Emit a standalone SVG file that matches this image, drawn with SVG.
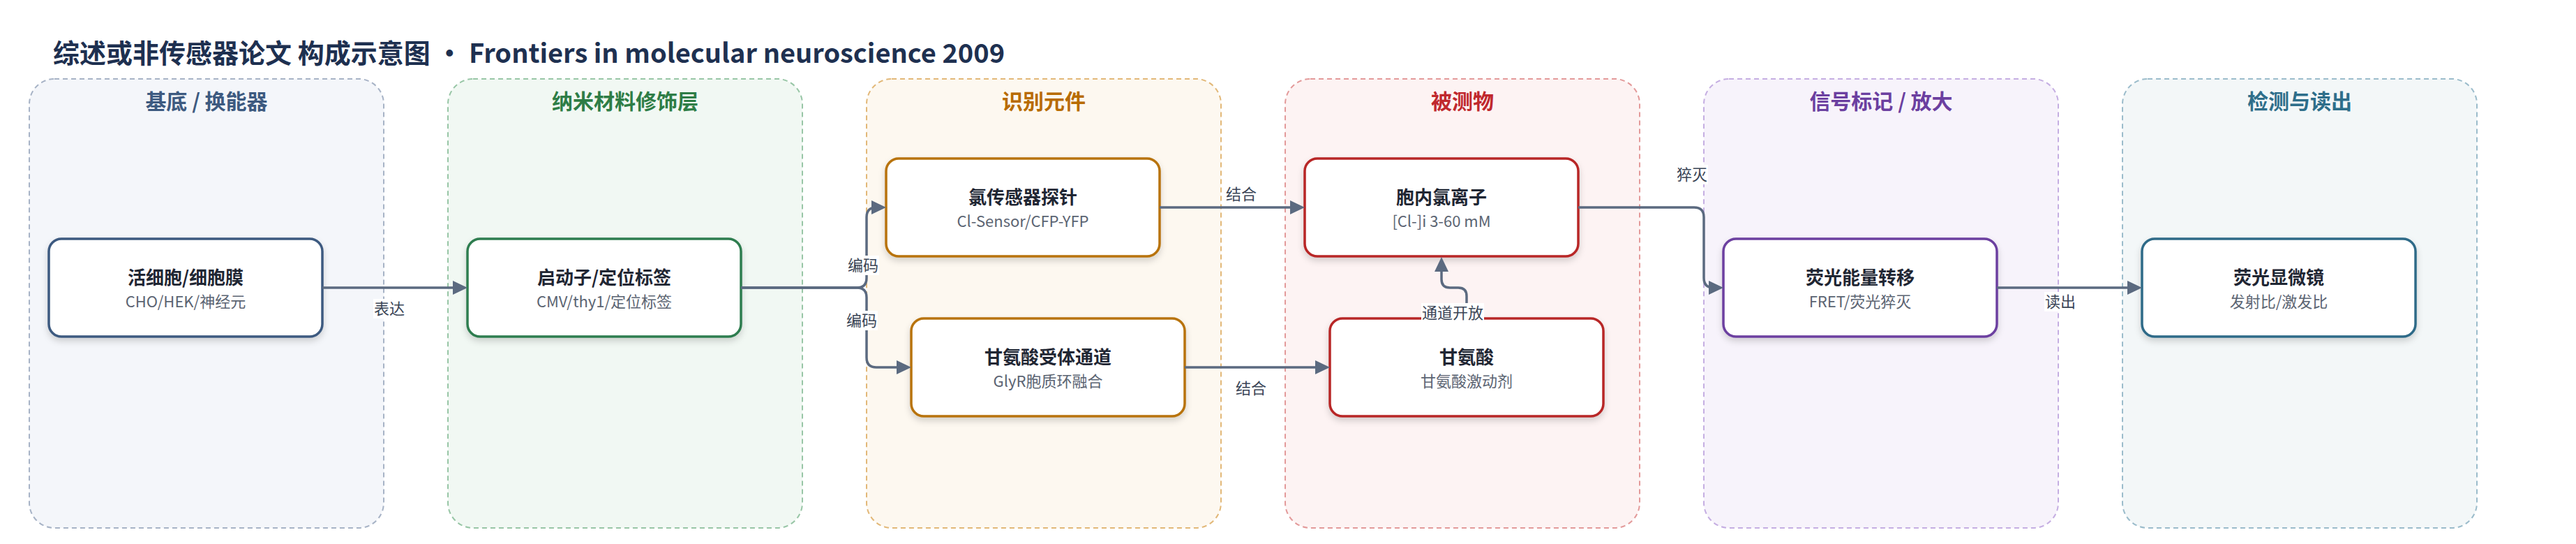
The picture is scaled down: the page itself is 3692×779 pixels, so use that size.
<svg xmlns="http://www.w3.org/2000/svg" width="3692" height="779" viewBox="0 0 3692 779">
<style>
text{font-family:"Noto Sans CJK SC","Noto Sans",sans-serif}
.ttl{font-size:38px;font-weight:700;fill:#1e3050}
.pnl{stroke-width:2;stroke-dasharray:7 5}
.ptl{font-size:30px;font-weight:700;text-anchor:middle}
.nd{fill:#fff;stroke-width:3.5}
.nt{font-size:26px;font-weight:700;fill:#1f2633;text-anchor:middle}
.ns{font-size:22px;fill:#5b6472;text-anchor:middle}
.cn{fill:none;stroke:#5b6a80;stroke-width:3.5}
.lb{fill:#fff}
.lt{font-size:22px;fill:#3a4556;text-anchor:middle}
</style>
<defs>
<marker id="ah" markerUnits="userSpaceOnUse" markerWidth="22" markerHeight="22" refX="13" refY="10" orient="auto">
<path d="M0,0 L21,10 L0,20 z" fill="#5b6a80"/>
</marker>
<filter id="sh" x="-10%" y="-20%" width="120%" height="150%">
<feDropShadow dx="0" dy="5" stdDeviation="5" flood-color="#000" flood-opacity="0.16"/>
</filter>
</defs>
<rect width="3692" height="779" fill="#fff"/>
<text class="ttl" x="76" y="90">综述或非传感器论文 构成示意图 • Frontiers in molecular neuroscience 2009</text>

<g id="panel-substrate">
<rect class="pnl" x="42" y="113" width="508" height="643" rx="36" fill="#f4f6fa" stroke="#a7b3c6"/>
<text class="ptl" x="296" y="156" fill="#3d5a80">基底 / 换能器</text>
</g>
<g id="panel-nano">
<rect class="pnl" x="642" y="113" width="508" height="643" rx="36" fill="#f1f8f3" stroke="#98c6a6"/>
<text class="ptl" x="896" y="156" fill="#2e7d46">纳米材料修饰层</text>
</g>
<g id="panel-recog">
<rect class="pnl" x="1242" y="113" width="508" height="643" rx="36" fill="#fdf8f0" stroke="#e2b878"/>
<text class="ptl" x="1496" y="156" fill="#b86b00">识别元件</text>
</g>
<g id="panel-analyte">
<rect class="pnl" x="1842" y="113" width="508" height="643" rx="36" fill="#fdf3f3" stroke="#e39a9a"/>
<text class="ptl" x="2096" y="156" fill="#c0282d">被测物</text>
</g>
<g id="panel-signal">
<rect class="pnl" x="2442" y="113" width="508" height="643" rx="36" fill="#f7f3fb" stroke="#c5aee2"/>
<text class="ptl" x="2696" y="156" fill="#6b3fa0">信号标记 / 放大</text>
</g>
<g id="panel-detect">
<rect class="pnl" x="3042" y="113" width="508" height="643" rx="36" fill="#f3f7f8" stroke="#9bbccb"/>
<text class="ptl" x="3296" y="156" fill="#2e6e8a">检测与读出</text>
</g>

<g id="n1">
<rect class="nd" x="70" y="342" width="392" height="140" rx="18" stroke="#3d5a80" filter="url(#sh)"/>
<text class="nt" x="266" y="407">活细胞/细胞膜</text>
<text class="ns" x="266" y="440">CHO/HEK/神经元</text>
</g>
<g id="n2">
<rect class="nd" x="670" y="342" width="392" height="140" rx="18" stroke="#2e7d4f" filter="url(#sh)"/>
<text class="nt" x="866" y="407">启动子/定位标签</text>
<text class="ns" x="866" y="440">CMV/thy1/定位标签</text>
</g>
<g id="n3">
<rect class="nd" x="1270" y="227" width="392" height="140" rx="18" stroke="#b8730a" filter="url(#sh)"/>
<text class="nt" x="1466" y="292">氯传感器探针</text>
<text class="ns" x="1466" y="325">Cl-Sensor/CFP-YFP</text>
</g>
<g id="n4">
<rect class="nd" x="1306" y="456" width="392" height="140" rx="18" stroke="#b8730a" filter="url(#sh)"/>
<text class="nt" x="1502" y="521">甘氨酸受体通道</text>
<text class="ns" x="1502" y="554">GlyR胞质环融合</text>
</g>
<g id="n5">
<rect class="nd" x="1870" y="227" width="392" height="140" rx="18" stroke="#b82828" filter="url(#sh)"/>
<text class="nt" x="2066" y="292">胞内氯离子</text>
<text class="ns" x="2066" y="325">[Cl-]i 3-60 mM</text>
</g>
<g id="n6">
<rect class="nd" x="1906" y="456" width="392" height="140" rx="18" stroke="#b82828" filter="url(#sh)"/>
<text class="nt" x="2102" y="521">甘氨酸</text>
<text class="ns" x="2102" y="554">甘氨酸激动剂</text>
</g>
<g id="n7">
<rect class="nd" x="2470" y="342" width="392" height="140" rx="18" stroke="#6c3fa0" filter="url(#sh)"/>
<text class="nt" x="2666" y="407">荧光能量转移</text>
<text class="ns" x="2666" y="440">FRET/荧光猝灭</text>
</g>
<g id="n8">
<rect class="nd" x="3070" y="342" width="392" height="140" rx="18" stroke="#2f6b88" filter="url(#sh)"/>
<text class="nt" x="3266" y="407">荧光显微镜</text>
<text class="ns" x="3266" y="440">发射比/激发比</text>
</g>

<g id="connectors">
<path class="cn" marker-end="url(#ah)" d="M462,412 H662"/>
<path class="cn" marker-end="url(#ah)" d="M1062,412 H1228 Q1242,412 1242,398 V311 Q1242,297 1256,297 H1262"/>
<path class="cn" marker-end="url(#ah)" d="M1062,412 H1228 Q1242,412 1242,426 V512 Q1242,526 1256,526 H1298"/>
<path class="cn" marker-end="url(#ah)" d="M1662,297 H1862"/>
<path class="cn" marker-end="url(#ah)" d="M1698,526 H1898"/>
<path class="cn" marker-end="url(#ah)" d="M2102,456 V424 Q2102,412 2090,412 H2078 Q2066,412 2066,400 V376"/>
<path class="cn" marker-end="url(#ah)" d="M2262,297 H2428 Q2442,297 2442,311 V398 Q2442,412 2456,412 H2462"/>
<path class="cn" marker-end="url(#ah)" d="M2862,412 H3062"/>

<rect class="lb" x="535" y="428" width="46" height="28"/>
<text class="lt" x="558" y="450">表达</text>
<rect class="lb" x="1214" y="366" width="46" height="28"/>
<text class="lt" x="1237" y="388">编码</text>
<rect class="lb" x="1212" y="445" width="46" height="28"/>
<text class="lt" x="1235" y="467">编码</text>
<rect class="lb" x="1756" y="264" width="46" height="28"/>
<text class="lt" x="1779" y="286">结合</text>
<rect class="lb" x="1770" y="542" width="46" height="28"/>
<text class="lt" x="1793" y="564">结合</text>
<rect class="lb" x="2037" y="434" width="90" height="28"/>
<text class="lt" x="2082" y="456">通道开放</text>
<rect class="lb" x="2402" y="236" width="46" height="28"/>
<text class="lt" x="2425" y="258">猝灭</text>
<rect class="lb" x="2930" y="418" width="46" height="28"/>
<text class="lt" x="2953" y="440">读出</text>
</g>
</svg>
